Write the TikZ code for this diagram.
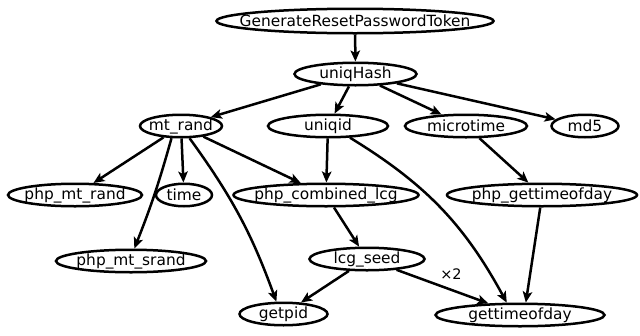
\documentclass[tikz,border=0pt]{standalone}
\usepackage{fontspec}
\setmainfont{DejaVu Sans}
\usetikzlibrary{shapes.geometric,arrows.meta}
\tikzset{
  fn/.style={ellipse, draw, line width=2.5pt, inner sep=0pt, minimum height=22.5pt,
    font=\fontsize{15.4}{18}\selectfont},
  edge/.style={line width=2.5pt, -{Stealth[length=11pt,width=9.5pt,inset=2.5pt]}},
  lbl/.style={font=\fontsize{14.5}{16}\selectfont, inner sep=0pt},
}
\newcommand{\fnt}[1]{\makebox[0pt]{#1}}
\begin{document}
\begin{tikzpicture}[x=1pt,y=-1pt]
\useasboundingbox (0,0) rectangle (640,335);
\node[fn, minimum width=277pt, minimum height=24.5pt] (grpt) at (355,21) {\fnt{GenerateResetPasswordToken}};
\node[fn, minimum width=122pt] (uh) at (355.5,74) {\fnt{uniqHash}};
\node[fn, minimum width=82pt] (mtr) at (181,126) {\fnt{mt\_rand}};
\node[fn, minimum width=120pt] (uid) at (328,126) {\fnt{uniqid}};
\node[fn, minimum width=122pt] (mic) at (466,126) {\fnt{microtime}};
\node[fn, minimum width=67pt] (md5) at (585,126) {\fnt{md5}};
\node[fn, minimum width=134pt] (pmr) at (75,195) {\fnt{php\_mt\_rand}};
\node[fn, minimum width=56pt] (time) at (184,195) {\fnt{time}};
\node[fn, minimum width=185pt] (pcl) at (326,195) {\fnt{php\_combined\_lcg}};
\node[fn, minimum width=190pt] (pgt) at (542,195) {\fnt{php\_gettimeofday}};
\node[fn, minimum width=150pt] (pms) at (131,261) {\fnt{php\_mt\_srand}};
\node[fn, minimum width=115pt] (lcg) at (367,259) {\fnt{lcg\_seed}};
\node[fn, minimum width=88pt] (gp) at (283.5,314) {\fnt{getpid}};
\node[fn, minimum width=169pt] (gtod) at (520,315) {\fnt{gettimeofday}};
\node[lbl] (x2) at (451,274) {×2};

\draw[edge] (grpt) -- (uh);
\draw[edge] (uh) -- (mtr);
\draw[edge] (uh) -- (uid);
\draw[edge] (uh) -- (mic);
\draw[edge] (uh) -- (md5);
\draw[edge] (mtr) -- (pmr);
\draw[edge] (mtr.-128) to[bend left=3] (pms.75);
\draw[edge] (mtr) -- (time);
\draw[edge] (mtr.-55) to[bend left=8] (gp.120);
\draw[edge] (mtr) -- (pcl);
\draw[edge] (uid) -- (pcl);
\draw[edge] (uid.-28) to[bend left=15] (gtod.137);
\draw[edge] (mic) -- (pgt);
\draw[edge] (pcl) -- (lcg);
\draw[edge] (pgt.-98) -- (gtod.65);
\draw[edge] (lcg) -- (gp);
\draw[edge] (lcg) -- (gtod);
\end{tikzpicture}
\end{document}
